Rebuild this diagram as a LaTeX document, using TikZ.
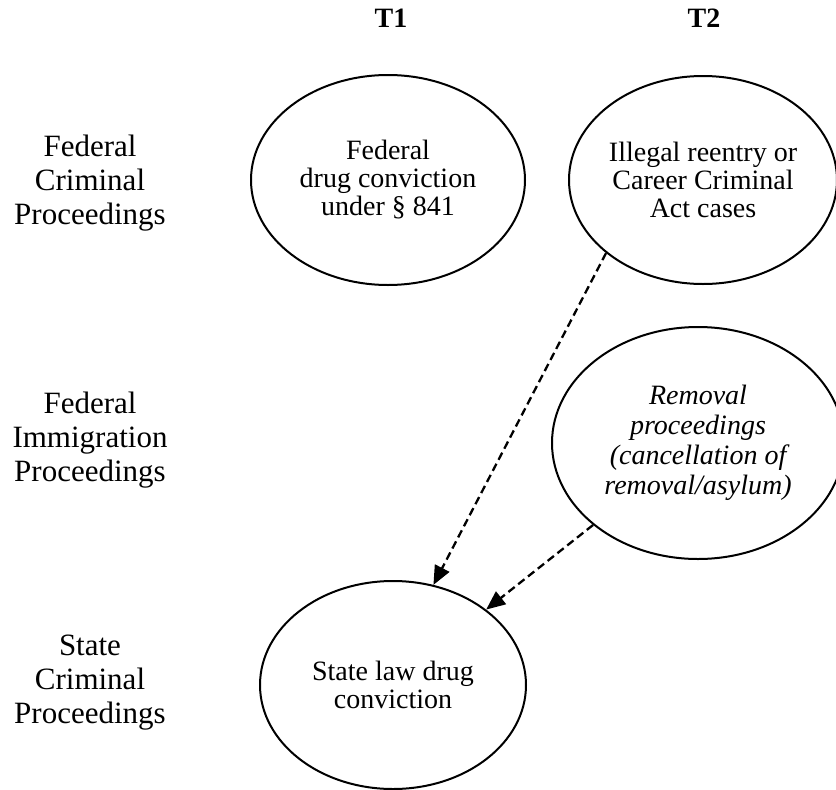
\documentclass[tikz,border=0pt]{standalone}
\usepackage{fontspec}
\setmainfont{Liberation Serif}
\usetikzlibrary{shapes.geometric,arrows.meta}

\begin{document}
\begin{tikzpicture}[x=1pt,y=-1pt,
                    court/.style={ellipse,draw,line width=2pt,inner sep=0pt,align=center,
                            font=\fontsize{28}{28}\selectfont},
                    level/.style={align=center,font=\fontsize{31}{34}\selectfont},
                    phase/.style={font=\fontsize{28}{30}\selectfont\bfseries},
                    link/.style={dashed,dash pattern=on 8pt off 4.5pt,line width=2.3pt,
                            -{Triangle[length=19pt,width=16pt]}}]
                    \useasboundingbox (0,0) rectangle (836,790);
                    \clip (0,0) rectangle (836,790);

                    % column heads
                    \node[phase] (t1) at (391,18) {T1};
                    \node[phase] (t2) at (704,18) {T2};

                    % row labels
                    \node[level] (fedcrim) at (90,183) {Federal\\Criminal\\Proceedings};
                    \node[level] (fedimm) at (90,440) {Federal\\Immigration\\Proceedings};
                    \node[level] (statecrim) at (90,683) {State\\Criminal\\Proceedings};

                    % proceedings
                    \node[court,minimum width=274pt,minimum height=210pt] (fed) at (388,180)
                        {Federal\\drug conviction\\under \S\ 841};
                    \node[court,minimum width=268pt,minimum height=208pt] (reentry) at (703,180)
                        {Illegal reentry or\\Career Criminal\\Act cases};
                    \node[court,minimum width=292pt,minimum height=232pt,
                          font=\fontsize{28}{30}\selectfont\itshape] (removal) at (698,443)
                        {Removal\\proceedings\\(cancellation of\\removal/asylum)};
                    \node[court,minimum width=266pt,minimum height=208pt] (state) at (393,685)
                        {State law drug\\conviction};

                    \draw[link] (reentry.217) -- (state.68);
                    \draw[link] (removal.218) -- (state.39);
                \end{tikzpicture}
\end{document}
